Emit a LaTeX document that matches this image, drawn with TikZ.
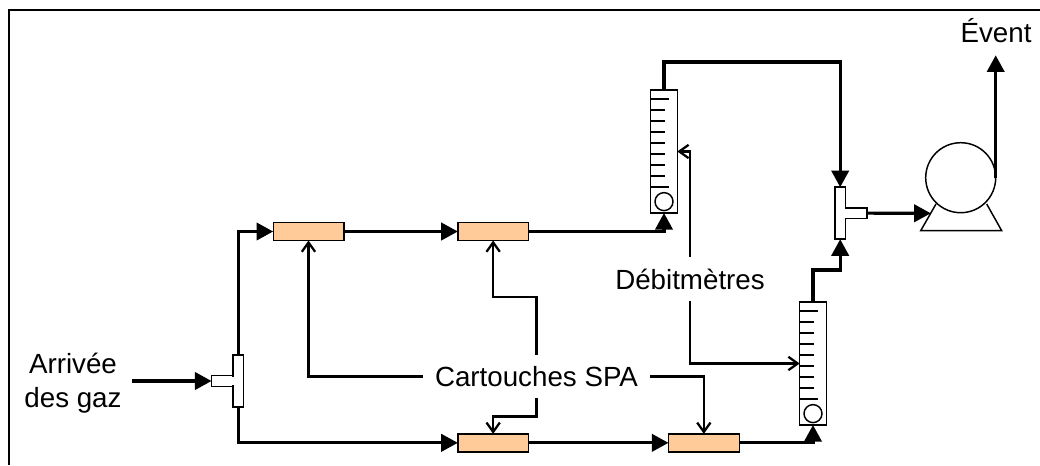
\documentclass[tikz,border=0pt]{standalone}
\usepackage{fontspec}
\setmainfont{Liberation Sans}
\usepackage{xcolor}
\usepackage{tikz}
\usetikzlibrary{positioning, arrows.meta, calc}

\definecolor{cartfill}{RGB}{255,204,153}

% graduation of a flow meter, first and last marks longer
\newcommand{\rotaticks}[1]{%
  \foreach \k/\len in {0/18,1/14,2/14,3/14,4/14,5/14,6/14,7/14,8/18}
    \draw[tickline] ($(#1.north west)+(0,9+11*\k)$) -- ++(\len,0);
}

\begin{document}
\begin{tikzpicture}[
  x=0.75pt, y=-0.75pt,
  font=\fontsize{20.8}{26}\selectfont,
  pipe/.style={line width=2.3pt, -{Triangle[length=12.5pt, width=13pt]}},
  leader/.style={line width=1.8pt, -{Straight Barb[length=7pt, width=10pt, line width=1.7pt]}},
  tickline/.style={line width=1pt},
  cartridge/.style={
    draw, line width=1pt, fill=cartfill, outer sep=0pt, inner sep=0pt,
    minimum width=53pt, minimum height=13.5pt
  },
  rotameter/.style={
    draw, line width=1.1pt, fill=white, outer sep=0pt, inner sep=0pt,
    minimum width=20pt, minimum height=92.25pt
  },
  ball/.style={
    draw, circle, line width=1.1pt, outer sep=0pt, inner sep=0pt, minimum size=13.5pt
  },
  teebar/.style={
    draw, line width=1.1pt, fill=white, outer sep=0pt, inner sep=0pt,
    minimum width=8pt, minimum height=39pt
  },
  teestub/.style={
    draw, line width=1.1pt, fill=white, outer sep=0pt, inner sep=0pt,
    minimum width=16pt, minimum height=8pt
  },
  gaplabel/.style={inner sep=0pt, outer sep=0pt, align=center}
]
\useasboundingbox (0,0) rectangle (1040,465);

% Frame, open on the right and at the bottom
\draw[line width=2.1pt] (9,465) -- (9,10) -- (1040,10);

% Cartridges
\node[cartridge] (c1) at (308.5,231.5) {};
\node[cartridge, right=85.5pt of c1] (c2) {};
\node[cartridge, below=145pt of c2] (c3) {};
\node[cartridge, right=105pt of c3] (c4) {};

% Flow meters
\node[rotameter] (r1) at (664,151.5) {};
\node[rotameter] (r2) at (813,363.5) {};
\node[ball, above=1.8pt of r1.south] (b1) {};
\node[ball, above=1.8pt of r2.south] (b2) {};
\rotaticks{r1}
\rotaticks{r2}

% Tees
\node[teebar] (t1b) at (238.2,381) {};
\node[teestub, left=0pt of t1b] (t1s) {};
\node[teebar] (t2b) at (840.2,213.2) {};
\node[teestub, right=0pt of t2b] (t2s) {};
\draw[white, line width=1.2pt] ($(t1s.north east)+(0,1)$) -- ($(t1s.south east)+(0,-1)$);
\draw[white, line width=1.2pt] ($(t2s.north west)+(0,1)$) -- ($(t2s.south west)+(0,-1)$);

% Pump
\coordinate (pumpin) at (930.8,213.3);
\draw[line width=1.1pt] (936,204) -- (920.7,230.7) -- (1001.7,230.7) -- (986.7,204);
\node[circle, draw, line width=1.1pt, fill=white, outer sep=0pt, inner sep=0pt, minimum size=52.5pt] (pump) at (960.7,177.7) {};

% Labels
\node[gaplabel, minimum width=88.5pt] (inlet) at (73,383) {Arrivée\\des gaz};
\node[gaplabel, minimum width=170pt, minimum height=32pt] (spa) at (536.5,376.5) {Cartouches SPA};
\node[gaplabel, minimum width=120pt, minimum height=33pt] (deb) at (690,279) {Débitmètres};
\node[gaplabel, anchor=base, inner ysep=9.4pt] (vent) at (996,42.5) {Évent};

% Gas lines
\draw[pipe] (inlet.east |- t1s.west) -- (t1s.west);
\draw[pipe] (t1b.north) |- (c1.west);
\draw[pipe] (t1b.south) |- (c3.west);
\draw[pipe] (c1) -- (c2);
\draw[pipe] (c3) -- (c4);
\draw[pipe] (c2.east) -| (r1.south);
\draw[pipe] (c4.east) -| (r2.south);
\draw[pipe] (r1.north) -- ++(0,-28) -| (t2b.north);
\draw[pipe] (r2.north) -- ++(0,-32) -| (t2b.south);
\draw[pipe] (t2s.east) -- (pumpin);
\draw[pipe] (pump.east) -- (pump.east |- vent.south);

% Leaders from the labels
\draw[leader] (deb.north) |- (r1.east);
\draw[leader] (deb.south) |- (r2.west);
\draw[leader] (spa.west) -| (c1.south);
\draw[leader] (spa.north) -- ++(0,-58) -| (c2.south);
\draw[leader] (spa.south) -- ++(0,18.5) -| (c3.north);
\draw[leader] (spa.east) -| (c4.north);

\end{tikzpicture}
\end{document}
